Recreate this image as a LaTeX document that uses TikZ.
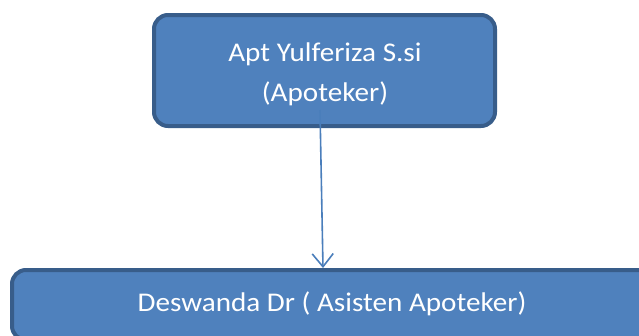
\documentclass[tikz,border=0pt]{standalone}
\usepackage{fontspec}
\setmainfont{Carlito}
\newfontfamily\boxfont[FakeStretch=1.08]{Carlito}
\usetikzlibrary{arrows.meta}
\definecolor{boxfill}{HTML}{4F81BD}
\definecolor{boxline}{HTML}{385D8A}
\definecolor{arrowc}{HTML}{4A7EBB}
\begin{document}
\begin{tikzpicture}[x=1pt,y=-1pt,
  box/.style={draw=boxline, fill=boxfill, line width=4pt, rounded corners=14pt,
    inner sep=0pt},
  boxtext/.style={text=white, font=\boxfont\fontsize{27}{40}\selectfont,
    align=center, inner sep=0pt},
  link/.style={draw=arrowc, line width=1.6pt,
    -{Straight Barb[length=13pt,width=21pt,line width=1.6pt]}}]
\useasboundingbox (0,0) rectangle (639,335);
\clip (0,0) rectangle (639,335);
\node[box, minimum width=341pt, minimum height=111pt] (apt) at (324.5,70.5) {};
\node[boxtext] (apttext) at (325,74) {Apt Yulferiza S.si\\(Apoteker)};
\node[box, minimum width=640pt, minimum height=70pt] (asst) at (332,305) {};
\node[boxtext] (assttext) at (332,304) {Deswanda Dr ( Asisten Apoteker)};
\coordinate (start) at (320,110);
\coordinate (tipx) at (323,0);
\draw[link] (start) -- (asst.north -| tipx);
\end{tikzpicture}
\end{document}
